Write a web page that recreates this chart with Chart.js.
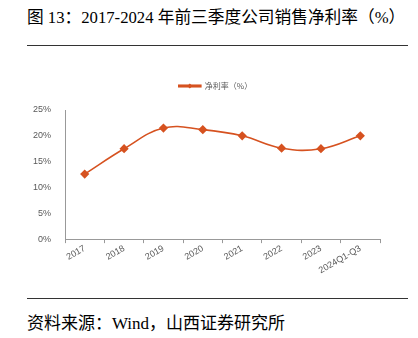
<!DOCTYPE html>
<html>
<head>
<meta charset="utf-8">
<script src="https://cdn.jsdelivr.net/npm/chart.js@4"></script>
<style>
  body { margin: 0; background: #fff; width: 418px; height: 338px; position: relative; overflow: hidden; }
  #title { position: absolute; left: 27px; top: 4px; font: 16.7px "Liberation Serif", "Noto Sans CJK SC", serif; color: #000; white-space: nowrap; }
  .rule { position: absolute; left: 27px; width: 381px; height: 1px; background: #333; }
  #source { position: absolute; left: 27px; top: 309px; font: 17px "Liberation Serif", "Noto Sans CJK SC", serif; color: #000; white-space: nowrap; }
  #wrap { position: absolute; left: 0; top: 62px; width: 418px; height: 232px; }
</style>
</head>
<body>
<div id="title">图 13：2017-2024 年前三季度公司销售净利率（%）</div>
<div class="rule" style="top:45px"></div>
<div id="wrap"><canvas id="netmargin"></canvas></div>
<div class="rule" style="top:298px"></div>
<div id="source">资料来源：Wind，山西证券研究所</div>
<script>
// 前三季度净利率
const years = ['2017', '2018', '2019', '2020', '2021', '2022', '2023', '2024Q1-Q3'];
const netMargin = [12.6, 17.5, 21.5, 21.2, 20.0, 17.6, 17.5, 20.0];
const yTicks = [0, 5, 10, 15, 20, 25];

var lineColor = 'rgb(214, 82, 32)';
var grey = '#595959';

// extra room under the legend, nudge it right and put the marker on the legend line
const legendTweak = {
    id: 'legendTweak',
    beforeInit(chart) {
        const fit = chart.legend.fit;
        chart.legend.fit = function () {
            fit.bind(chart.legend)();
            this.height += 10;
        };
    },
    afterLayout(chart) {
        chart.legend.left += 12;
        chart.legend.right += 12;
    },
    afterDraw(chart) {
        const hb = chart.legend.legendHitBoxes && chart.legend.legendHitBoxes[0];
        if (!hb) return;
        const c = chart.ctx;
        const x = hb.left + 11, y = hb.top + hb.height / 2, r = 2.5;
        c.save();
        c.fillStyle = lineColor;
        c.beginPath();
        c.moveTo(x, y - r); c.lineTo(x + r, y); c.lineTo(x, y + r); c.lineTo(x - r, y);
        c.closePath();
        c.fill();
        c.restore();
    }
};

var ctx = document.getElementById("netmargin");
var mychart = new Chart(ctx, {
    type: 'line',
    data: {
        labels: years,
        datasets: [{
            label: '净利率（%）',
            data: netMargin,
            borderColor: lineColor,
            backgroundColor: lineColor,
            borderWidth: 1.6,
            tension: 0.4,
            pointStyle: 'rectRot',
            pointRadius: 3.5,
            pointHoverRadius: 3.5,
        }],
    },
    options: {
        responsive: true,
        maintainAspectRatio: false,
        animation: false,
        layout: {
            padding: { left: 27, right: 38, top: 0, bottom: 18 }
        },
        plugins: {
            legend: {
                position: 'top',
                labels: {
                    boxWidth: 22,
                    boxHeight: 1.5,
                    color: grey,
                    font: { size: 8, family: 'Noto Sans CJK SC' },
                    padding: 20,
                },
            },
            tooltip: { enabled: false },
        },
        scales: {
            x: {
                offset: true,
                grid: { display: true, drawOnChartArea: false, offset: true, tickLength: 4, color: '#999' },
                border: { color: '#999' },
                ticks: { color: grey, font: { size: 9, family: 'Liberation Sans' }, minRotation: 30, maxRotation: 30, padding: 0 },
            },
            y: {
                min: 0,
                max: 25,
                afterBuildTicks: (axis) => { axis.ticks = yTicks.map(v => ({ value: v })); },
                grid: { display: false },
                border: { color: '#999' },
                ticks: { color: grey, font: { size: 9, family: 'Liberation Sans' }, padding: 6, callback: v => v + '%' },
            },
        },
    },
    plugins: [legendTweak],
});
</script>
</body>
</html>
